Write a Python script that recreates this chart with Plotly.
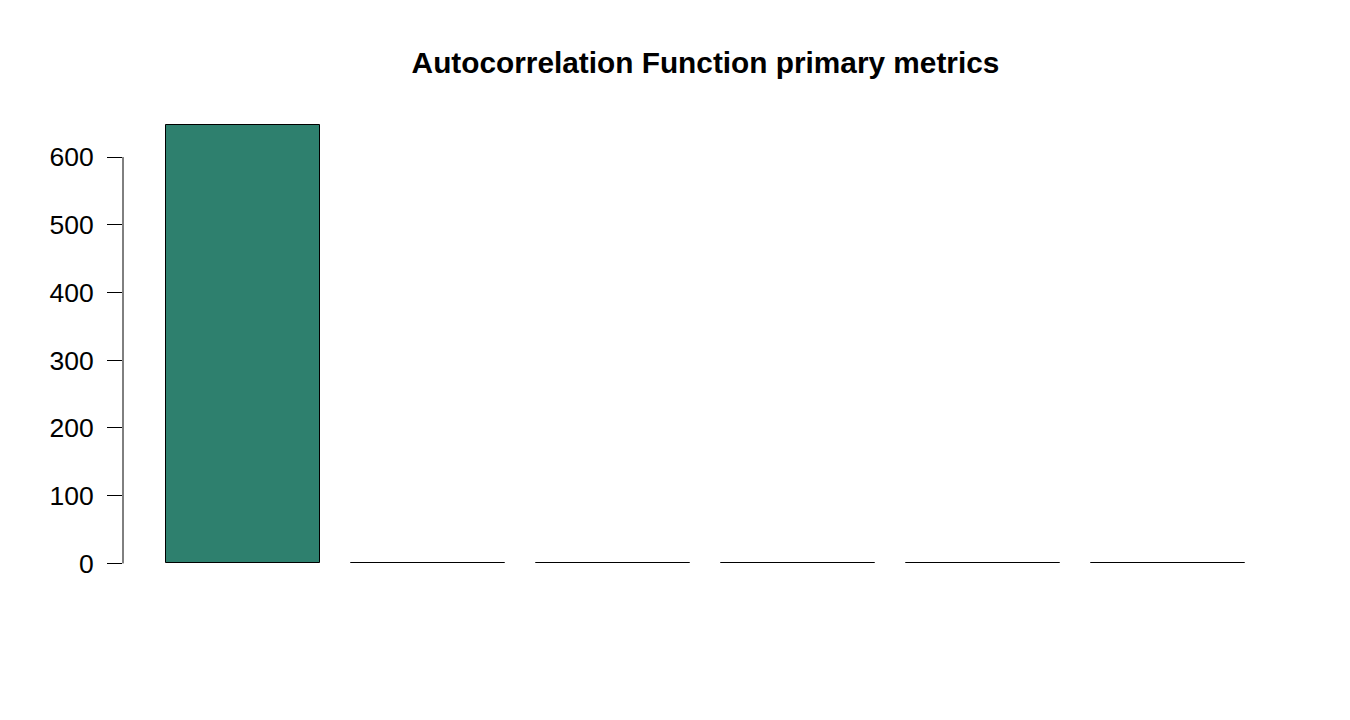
import plotly.graph_objects as go

lags = ["1", "2", "3", "4", "5", "6"]
values = [648, 0.4, 0.3, 0.25, 0.2, 0.15]
y_ticks = [0, 100, 200, 300, 400, 500, 600]

# R barplot layout: width 1, space 0.2
centers = [0.2 + 0.5 + 1.2 * i for i in range(len(values))]
xmin, xmax = 0.2, 0.2 + 1.2 * len(values) - 0.2
xpad = 0.04 * (xmax - xmin)
ymax = max(values)
ypad = 0.04 * ymax

fig = go.Figure()
fig.add_trace(go.Bar(
    x=centers, y=values, width=1.0,
    marker=dict(color="#2E806E", line=dict(color="black", width=1)),
    text=lags, textposition="none", hoverinfo="y",
))

fig.update_layout(
    width=1350, height=720,
    paper_bgcolor="white", plot_bgcolor="white",
    margin=dict(l=115, r=70, t=99, b=147),
    font=dict(family="Liberation Sans, Arial, sans-serif", size=26, color="black"),
    title=dict(text="<b>Autocorrelation Function primary metrics</b>",
               x=0.5, xref="paper", xanchor="center",
               y=1 - 55 / 720, yref="container", yanchor="middle",
               font=dict(size=29.8, color="black")),
    showlegend=False,
    bargap=0,
)
fig.update_xaxes(range=[xmin - xpad, xmax + xpad], showgrid=False, zeroline=False,
                 showticklabels=False, ticks="", showline=False, fixedrange=True)
fig.update_yaxes(range=[-ypad, ymax + ypad], showgrid=False, zeroline=False,
                 tickvals=y_ticks, ticktext=[str(v) for v in y_ticks],
                 ticks="outside", ticklen=15, tickwidth=1, tickcolor="black",
                 ticklabelstandoff=8,
                 tickfont=dict(size=26.5), showline=False, fixedrange=True)
fig.add_shape(type="line", xref="paper", yref="y", x0=0, x1=0,
              y0=y_ticks[0], y1=y_ticks[-1], line=dict(color="black", width=1))

fig.write_html("out.html")
